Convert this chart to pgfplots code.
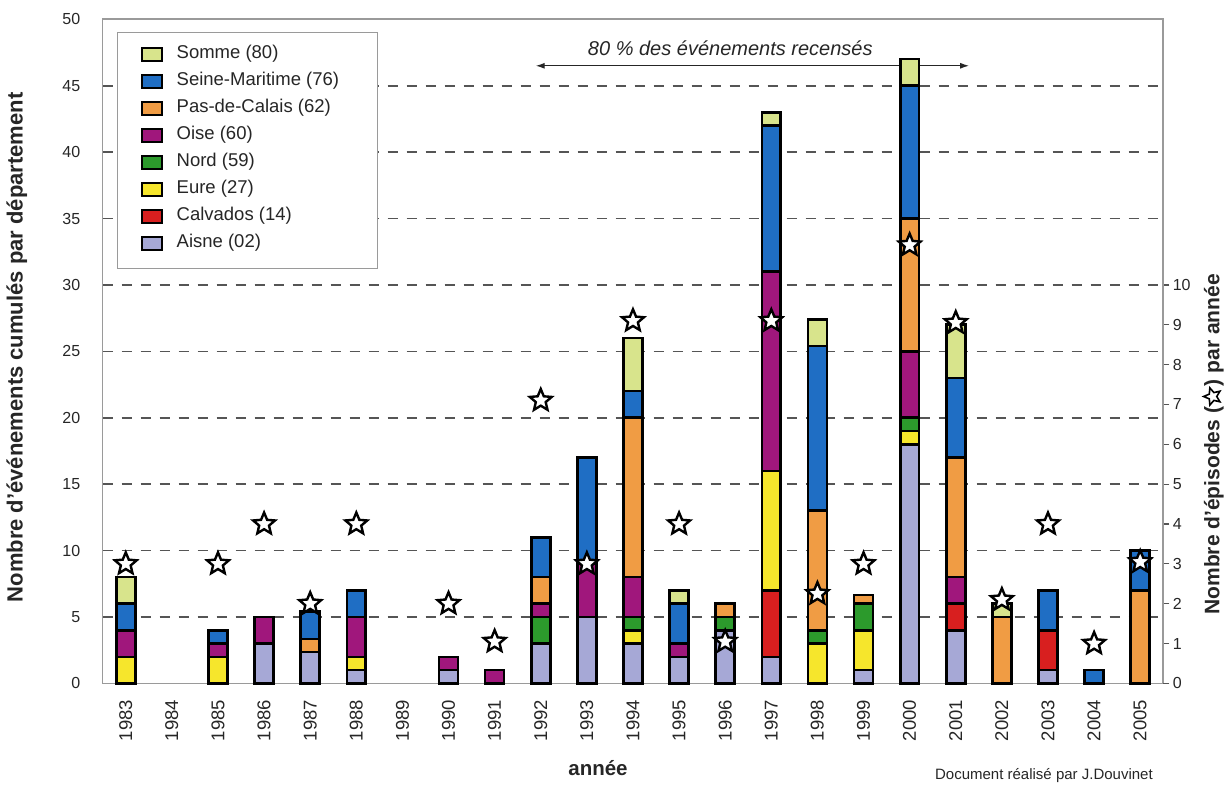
\documentclass[border=0pt]{standalone}
\usepackage{pgfplots}
\pgfplotsset{compat=1.18}
\usepackage{pgfplotstable}
\usepackage{fontspec}
\setmainfont{Liberation Sans}
\usetikzlibrary{arrows.meta}

\definecolor{csomme}{HTML}{D8E48C}
\definecolor{csm}{HTML}{1F6EC4}
\definecolor{cpas}{HTML}{F09C44}
\definecolor{coise}{HTML}{A0177C}
\definecolor{cnord}{HTML}{2C9A2C}
\definecolor{ceure}{HTML}{F6E62C}
\definecolor{ccalv}{HTML}{D81F1F}
\definecolor{caisne}{HTML}{A6A8D6}
\definecolor{axgray}{HTML}{9A9A9A}
\definecolor{gridgray}{HTML}{555555}
\definecolor{txt}{HTML}{262626}

% white five-pointed star
\pgfdeclareplotmark{wstar}{%
  \pgfpathmoveto{\pgfqpointpolar{90}{\pgfplotmarksize}}%
  \pgfpathlineto{\pgfqpointpolar{126}{0.45\pgfplotmarksize}}%
  \pgfpathlineto{\pgfqpointpolar{162}{\pgfplotmarksize}}%
  \pgfpathlineto{\pgfqpointpolar{198}{0.45\pgfplotmarksize}}%
  \pgfpathlineto{\pgfqpointpolar{234}{\pgfplotmarksize}}%
  \pgfpathlineto{\pgfqpointpolar{270}{0.45\pgfplotmarksize}}%
  \pgfpathlineto{\pgfqpointpolar{306}{\pgfplotmarksize}}%
  \pgfpathlineto{\pgfqpointpolar{342}{0.45\pgfplotmarksize}}%
  \pgfpathlineto{\pgfqpointpolar{18}{\pgfplotmarksize}}%
  \pgfpathlineto{\pgfqpointpolar{54}{0.45\pgfplotmarksize}}%
  \pgfpathclose
  \pgfusepathqfillstroke
}

% events per year and departement (1984 and 1989: none)
\pgfplotstableread{
year aisne calv eure nord oise pas sm somme
1983 0 0 2 0 2 0 2 2
1985 0 0 2 0 1 0 1 0
1986 3 0 0 0 2 0 0 0
1987 2.35 0 0 0 0 1 2.05 0
1988 1 0 1 0 3 0 2 0
1990 1 0 0 0 1 0 0 0
1991 0 0 0 0 1 0 0 0
1992 3 0 0 2 1 2 3 0
1993 5 0 0 0 4 0 8 0
1994 3 0 1 1 3 12 2 4
1995 2 0 0 0 1 0 3 1
1996 4 0 0 1 0 1 0 0
1997 2 5 9 0 15 0 11 1
1998 0 0 3 1 0 9 12.4 2
1999 1 0 3 2 0 0.65 0 0
2000 18 0 1 1 5 10 10 2
2001 4 2 0 0 2 9 6 4
2002 0 0 0 0 0 5 0 1
2003 1 3 0 0 0 0 3 0
2004 0 0 0 0 0 0 1 0
2005 0 0 0 0 0 7 3 0
}\events

% episodes per year (right axis)
\pgfplotstableread{
year n
1983 3
1985 3
1986 4
1987 2
1988 4
1990 2
1991 1.05
1992 7.1
1993 3
1994 9.1
1995 4
1996 1.05
1997 9.1
1998 2.25
1999 3
2000 11
2001 9.05
2002 2.1
2003 4
2004 1
2005 3.05
}\episodes

\pgfplotsset{bars/.style={fill=#1, draw=black, line width=2.6bp}}
% star drawn in the right-hand label
\newcommand\labelstar{\hspace{1bp}\tikz[baseline={(0,-0.32em)}]\draw[black, fill=white, line width=1.6bp]
  (90:9bp)--(126:4.1bp)--(162:9bp)--(198:4.1bp)--(234:9bp)--(270:4.1bp)
  --(306:9bp)--(342:4.1bp)--(18:9bp)--(54:4.1bp)--cycle;\hspace{1bp}}

\begin{document}
\begin{tikzpicture}
\begin{axis}[
  scale only axis, width=1060.6bp, height=664.1bp,
  xmin=1982.5, xmax=2005.5, ymin=0, ymax=50,
  clip=false,
  ybar stacked, bar width=0.41,
  xtick={1983,1984,...,2005},
  xticklabels={1983,1984,1985,1986,1987,1988,1989,1990,1991,1992,1993,1994,1995,1996,1997,1998,1999,2000,2001,2002,2003,2004,2005},
  ytick={0,5,...,50},
  ymajorgrids,
  grid style={gridgray, line width=1.6bp, dash pattern=on 10bp off 9bp},
  axis line style={axgray, line width=1.6bp},
  major tick length=0pt,
  tick style={draw=none},
  xticklabel style={rotate=90, anchor=east, font=\fontsize{18.5bp}{20bp}\selectfont, text=txt},
  xticklabel shift=13bp,
  yticklabel style={font=\fontsize{16bp}{18bp}\selectfont, text=txt, xshift=-19bp},
  /pgf/number format/assume math mode=true,
  every axis x label/.style={at={(axis description cs:0.467,-0.111)}, anchor=north,
    font=\bfseries\fontsize{20.5bp}{22bp}\selectfont, text=txt},
  every axis y label/.style={at={(axis description cs:-0.068,0.506)}, rotate=90, anchor=south,
    font=\bfseries\fontsize{22bp}{24bp}\selectfont, text=txt},
  xlabel={année},
  ylabel={Nombre d’événements cumulés par département},
  reverse legend,
  legend cell align=left,
  legend style={at={(axis description cs:0.0358,0.962)}, anchor=north west,
    draw=none, fill=none, inner sep=0pt, column sep=13bp, row sep=8bp,
    font=\fontsize{18.5bp}{20bp}\selectfont, text=txt,
    nodes={inner sep=1bp, text height=13bp, text depth=4bp}},
  legend image code/.code={\draw[#1, line width=1.8bp] (0bp,-6.5bp) rectangle (20bp,6.5bp);},
]
\filldraw[fill=white, draw=axgray, line width=1bp]
  (axis description cs:0.0135,0.98) rectangle (axis description cs:0.259,0.625);

\addplot[bars=caisne] table[x=year, y=aisne]{\events};
\addlegendentry{Aisne (02)}
\addplot[bars=ccalv] table[x=year, y=calv]{\events};
\addlegendentry{Calvados (14)}
\addplot[bars=ceure] table[x=year, y=eure]{\events};
\addlegendentry{Eure (27)}
\addplot[bars=cnord] table[x=year, y=nord]{\events};
\addlegendentry{Nord (59)}
\addplot[bars=coise] table[x=year, y=oise]{\events};
\addlegendentry{Oise (60)}
\addplot[bars=cpas] table[x=year, y=pas]{\events};
\addlegendentry{Pas-de-Calais (62)}
\addplot[bars=csm] table[x=year, y=sm]{\events};
\addlegendentry{Seine-Maritime (76)}
\addplot[bars=csomme] table[x=year, y=somme]{\events};
\addlegendentry{Somme (80)}

\draw[{Latex[length=9bp,width=6bp]}-{Latex[length=9bp,width=6bp]}, line width=1.2bp, draw=txt]
  (axis cs:1991.89,46.5) -- (axis cs:2001.29,46.5);
\node[font=\itshape\fontsize{20bp}{22bp}\selectfont, text=txt] at (axis cs:1996.11,47.8)
  {80 \% des événements recensés};
\coordinate (O) at (axis description cs:0,0);
\end{axis}

\begin{axis}[
  scale only axis, width=1060.6bp, height=664.1bp,
  xmin=1982.5, xmax=2005.5, ymin=0, ymax=16.6667,
  clip=false,
  axis x line=none,
  axis y line*=right,
  ytick={0,1,...,10},
  y axis line style={axgray, line width=1.6bp},
  ytick style={gridgray, line width=1.2bp},
  tick align=outside, major tick length=6bp,
  yticklabel style={font=\fontsize{16bp}{18bp}\selectfont, text=txt},
  /pgf/number format/assume math mode=true,
  every axis y label/.style={at={(axis description cs:1.034,0.36)}, rotate=90, anchor=north,
    font=\bfseries\fontsize{21bp}{23bp}\selectfont, text=txt},
  ylabel={Nombre d’épisodes (\labelstar) par année},
]
\addplot[only marks, mark=wstar, mark size=11.5bp,
  mark options={fill=white, draw=black, line width=2.4bp}]
  table[x=year, y=n]{\episodes};
\node[font=\fontsize{15bp}{17bp}\selectfont, text=txt] at (axis description cs:0.8875,-0.139)
  {Document réalisé par J.Douvinet};
\end{axis}

\pgfresetboundingbox
\path ([shift={(-102.7bp,-107.6bp)}]O) rectangle ++(1229bp,791bp);
\end{tikzpicture}
\end{document}
